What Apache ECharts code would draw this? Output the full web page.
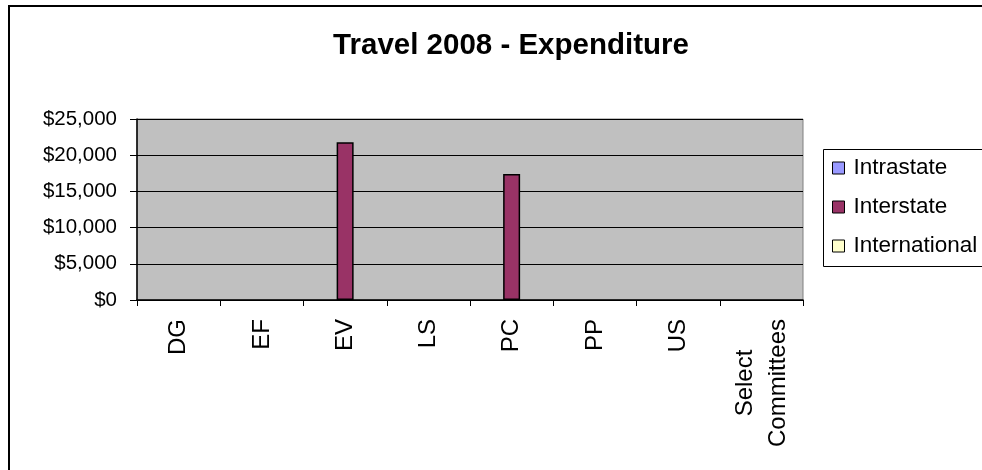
<!DOCTYPE html>
<html>
<head>
<meta charset="utf-8">
<script src="https://cdn.jsdelivr.net/npm/echarts@6/dist/echarts.min.js"></script>
<style>
  html, body { margin: 0; padding: 0; background: #fff; }
  #chart { width: 982px; height: 470px; }
</style>
</head>
<body>
<div id="chart"></div>
<script>
// Travel expenditure 2008 by committee and travel type
const categories = ['DG', 'EF', 'EV', 'LS', 'PC', 'PP', 'US', 'Select\nCommittees'];
const intrastate = [null, null, null, null, null, null, null, null];
const interstate = [null, null, 21800, null, 17400, null, null, null];
const international = [null, null, null, null, null, null, null, null];
const yTicks = [0, 5000, 10000, 15000, 20000, 25000];

const FONT = 'Arial, "Liberation Sans", sans-serif';

function money(v) {
  return '$' + v.toLocaleString('en-US');
}

const chart = echarts.init(document.getElementById('chart'), null, { renderer: 'canvas' });

function barSeries(name, data, color) {
  return {
    name: name,
    type: 'bar',
    data: data,
    barWidth: 17,
    barGap: '0%',
    itemStyle: { color: color, borderColor: '#000', borderWidth: 1.5 },
    emphasis: { disabled: true },
    animation: false
  };
}

chart.setOption({
  animation: false,
  backgroundColor: '#fff',
  title: {
    text: 'Travel 2008 - Expenditure',
    left: 506,
    top: 26,
    textAlign: 'center',
    textStyle: { fontFamily: FONT, fontSize: 29.5, fontWeight: 'bold', color: '#000' }
  },
  grid: {
    show: true,
    left: 137,
    right: 179,
    top: 119,
    bottom: 170,
    backgroundColor: '#C0C0C0',
    borderColor: '#808080',
    borderWidth: 1
  },
  legend: {
    orient: 'vertical',
    left: 832,
    top: 156,
    padding: 0,
    itemWidth: 12,
    itemHeight: 12,
    itemGap: 15,
    icon: 'rect',
    selectedMode: false,
    textStyle: { fontFamily: FONT, fontSize: 22.5, color: '#000', lineHeight: 24, padding: [0, 0, 0, 4] },
    itemStyle: { borderColor: '#000', borderWidth: 1 },
    data: ['Intrastate', 'Interstate', 'International']
  },
  xAxis: {
    type: 'category',
    data: categories,
    boundaryGap: true,
    axisLine: { lineStyle: { color: '#000', width: 1.5 } },
    axisTick: { show: true, length: 6, lineStyle: { color: '#000' }, alignWithLabel: false },
    axisLabel: {
      rotate: 90,
      margin: 19,
      interval: 0,
      fontFamily: FONT,
      fontSize: 24,
      color: '#000',
      formatter: function (v) {
        if (v.indexOf('\n') >= 0) {
          const parts = v.split('\n');
          return '{a|' + parts[0] + '}\n{b|' + parts[1] + '}';
        }
        return v;
      },
      rich: {
        a: { align: 'center', fontFamily: FONT, fontSize: 24, lineHeight: 33, color: '#000' },
        b: { fontFamily: FONT, fontSize: 24, lineHeight: 33, color: '#000' }
      }
    },
    splitLine: { show: false }
  },
  yAxis: {
    type: 'value',
    min: yTicks[0],
    max: yTicks[yTicks.length - 1],
    interval: yTicks[1] - yTicks[0],
    axisLine: { show: true, lineStyle: { color: '#000', width: 1.5 } },
    axisTick: { show: true, length: 7, lineStyle: { color: '#000' } },
    axisLabel: {
      margin: 20,
      fontFamily: FONT,
      fontSize: 20.5,
      color: '#000',
      formatter: function (v) { return money(v); }
    },
    splitLine: { show: true, lineStyle: { color: '#000', width: 1 } }
  },
  series: [
    barSeries('Intrastate', intrastate, '#9999FF'),
    barSeries('Interstate', interstate, '#993366'),
    barSeries('International', international, '#FFFFCC')
  ],
  graphic: [
    {
      type: 'rect',
      shape: { x: 9, y: 6, width: 1200, height: 700 },
      style: { fill: null, stroke: '#000', lineWidth: 2 },
      silent: true,
      z: 100
    },
    {
      type: 'rect',
      shape: { x: 823.5, y: 149.5, width: 300, height: 117 },
      style: { fill: null, stroke: '#000', lineWidth: 1 },
      silent: true,
      z: 100
    }
  ]
});
</script>
</body>
</html>
